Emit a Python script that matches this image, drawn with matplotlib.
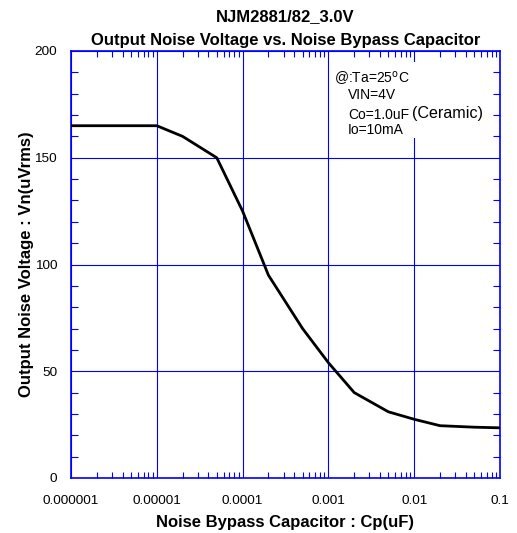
import numpy as np
import matplotlib
matplotlib.use("Agg")
import matplotlib.pyplot as plt
from matplotlib.patches import Rectangle
from matplotlib.ticker import FixedLocator, NullFormatter, MultipleLocator

plt.rcParams['font.family'] = ['Liberation Sans', 'DejaVu Sans']

# Data
cp = [1e-6, 1e-5, 2e-5, 5e-5, 1e-4, 2e-4, 5e-4, 1e-3, 2e-3, 5e-3, 1e-2, 2e-2, 5e-2, 1e-1]
vn = [165, 165, 160, 150, 125, 95, 70, 54, 40, 31, 27.5, 24.5, 23.8, 23.5]

xticks = [1e-6, 1e-5, 1e-4, 1e-3, 1e-2, 1e-1]
xlabels = ["0.000001", "0.00001", "0.0001", "0.001", "0.01", "0.1"]
yticks = [0, 50, 100, 150, 200]

blue = '#0000ff'

fig = plt.figure(figsize=(5.17, 5.33), dpi=100)
ax = fig.add_axes([71/517, 1-478/533, 429/517, 427/533])

ax.plot(cp, vn, color='black', lw=2, zorder=4)
ax.set_xscale('log')
ax.set_xlim(1e-6, 1e-1)
ax.set_ylim(0, 200)

ax.set_xticks(xticks)
ax.set_xticklabels(xlabels)
minor = [m * d for d in xticks[:-1] for m in range(2, 10)]
ax.xaxis.set_minor_locator(FixedLocator(minor))
ax.xaxis.set_minor_formatter(NullFormatter())
ax.set_yticks(yticks)
ax.yaxis.set_minor_locator(MultipleLocator(10))

ax.grid(True, which='major', color=blue, lw=0.8)
for s in ax.spines.values():
    s.set_color(blue)
    s.set_linewidth(1.2)
ax.tick_params(which='both', direction='in', top=True, right=True, color=blue, labelsize=9.7)
ax.tick_params(axis='x', which='major', length=0, pad=12)
ax.tick_params(axis='y', which='major', length=0, pad=10)
ax.tick_params(axis='x', which='minor', length=4, width=0.8)
ax.tick_params(axis='y', which='minor', length=5, width=0.8)

ax.set_xlabel("Noise Bypass Capacitor : Cp(uF)", fontsize=12, fontweight='bold', labelpad=6)
ax.set_ylabel("Output Noise Voltage : Vn(uVrms)", fontsize=12, fontweight='bold', labelpad=0)
ax.set_title("NJM2881/82_3.0V\nOutput Noise Voltage vs. Noise Bypass Capacitor",
             fontsize=12, fontweight='bold', linespacing=1.75, pad=4)

# white box behind the conditions text hides the grid there
ax.add_patch(Rectangle((0.606, 0.796), 0.36, 0.178, transform=ax.transAxes,
                       facecolor='white', edgecolor='none', zorder=3))
kw = dict(transform=ax.transAxes, va='center', zorder=5)
ax.text(0.613, 0.937, "@:Ta=25$^{\\rm o}$C", fontsize=10, **kw)
ax.text(0.646, 0.897, "VIN=4V", fontsize=10, **kw)
ax.text(0.646, 0.850, "Co=1.0uF", fontsize=10, **kw)
ax.text(0.795, 0.853, "(Ceramic)", fontsize=11.6, **kw)
ax.text(0.646, 0.815, "Io=10mA", fontsize=10, **kw)

fig.savefig("out.png", dpi=100)
